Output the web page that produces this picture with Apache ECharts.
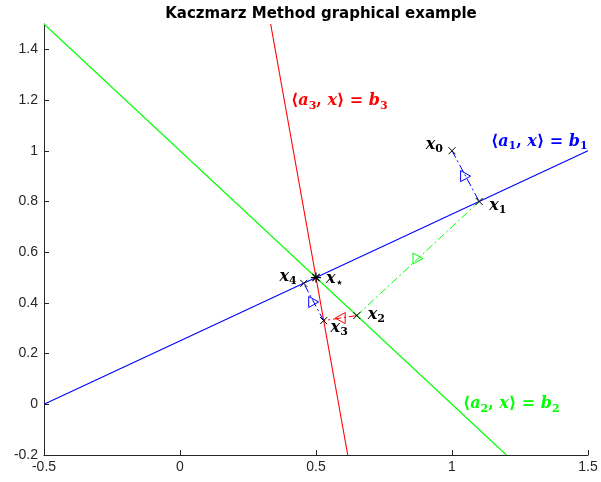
<!DOCTYPE html>
<html><head><meta charset="utf-8">
<script src="https://cdn.jsdelivr.net/npm/echarts@6/dist/echarts.min.js"></script>
<style>html,body{margin:0;padding:0;background:#fff}#c{width:601px;height:482px}</style>
</head><body><div id="c"></div>
<script>
// ---------------- data ----------------
const chartTitle = 'Kaczmarz Method graphical example';
const xTicks = [-0.5, 0, 0.5, 1, 1.5];
const yTicks = [-0.2, 0, 0.2, 0.4, 0.6, 0.8, 1, 1.2, 1.4];
const yMax = 1.5;

// hyperplanes <a_i, x> = b_i  (endpoints clipped to the axes box)
const line1 = [[-0.5, 0], [1.5, 1]];          // blue
const line2 = [[-0.5, 1.5], [1.2, -0.2]];     // green
const line3 = [[0.3333, 1.5], [0.6167, -0.2]]; // red

// Kaczmarz iterates
const iterX = [1, 1.1, 0.65, 0.528, 0.455];
const iterY = [1, 0.8, 0.35, 0.330, 0.477];
const iterSub = ['0', '1', '2', '3', '4'];
const solution = [0.5, 0.5];
const solutionSub = '\u22c6';

// hyperplane labels: anchor (left, middle) and subscript index
const eqLabelX = [1.143, 1.040, 0.408];
const eqLabelY = [1.037, 0.0, 1.195];
const eqIndex = ['1', '2', '3'];

// ---------------- styles ----------------
const BLUE = '#0000ff', GREEN = '#00ff00', RED = '#ff0000';
const lineColors = [BLUE, GREEN, RED];
const stepColors = [BLUE, GREEN, RED, BLUE];
const stepArrow = [1, 1, -1, 1];   // +1 = '>' marker, -1 = '<' marker
// label pixel offsets [dx, dy, align]
const iterLabelOffset = [[-9, -6, 'right'], [10, 4.5, 'left'], [11, -1, 'left'], [7, 7.5, 'left'], [-7, -6.5, 'right']];
const solLabelOffset = [10, 1, 'left'];
const AX = '#262626';

function rich(color) {
  return {
    m: {fontFamily: 'DejaVu Serif', fontStyle: 'italic', fontWeight: 'bold', fontSize: 16, lineHeight: 20, verticalAlign: 'middle', fill: color},
    u: {fontFamily: 'DejaVu Serif', fontWeight: 'bold', fontSize: 16, lineHeight: 20, verticalAlign: 'middle', fill: color},
    s: {fontFamily: 'DejaVu Serif', fontWeight: 'bold', fontSize: 11, lineHeight: 10, verticalAlign: 'bottom', fill: color}
  };
}

const chart = echarts.init(document.getElementById('c'), null, {renderer: 'canvas'});

const lineSeries = [line1, line2, line3].map((l, i) => ({
  type: 'line', data: l, showSymbol: false, silent: true, z: 2,
  lineStyle: {color: lineColors[i], width: 1.1}, animation: false
}));

const segData = [];
for (let i = 0; i < iterX.length - 1; i++) segData.push([iterX[i], iterY[i], iterX[i + 1], iterY[i + 1]]);

const iterData = iterX.map((x, i) => [x, iterY[i]]);

const option = {
  animation: false,
  backgroundColor: '#fff',
  title: {
    text: chartTitle, left: 316, top: 2, textAlign: 'center',
    textStyle: {fontFamily: 'DejaVu Sans', fontWeight: 'bold', fontSize: 15, color: '#000'}
  },
  grid: {left: 44, right: 13, top: 24, bottom: 27, containLabel: false},
  xAxis: {
    type: 'value', min: xTicks[0], max: xTicks[xTicks.length - 1], interval: xTicks[1] - xTicks[0],
    axisLine: {show: true, onZero: false, lineStyle: {color: AX, width: 1}},
    axisTick: {show: true, inside: true, length: 5, lineStyle: {color: AX}},
    axisLabel: {color: AX, fontFamily: 'Liberation Sans', fontSize: 14, margin: 5},
    splitLine: {show: false}
  },
  yAxis: {
    type: 'value', min: yTicks[0], max: yMax, interval: yTicks[1] - yTicks[0],
    axisLine: {show: true, onZero: false, lineStyle: {color: AX, width: 1}},
    axisTick: {show: true, inside: true, length: 5, lineStyle: {color: AX}},
    axisLabel: {color: AX, fontFamily: 'Liberation Sans', fontSize: 14, margin: 6, showMaxLabel: false,
      formatter: v => (Math.abs(v - yMax) < 1e-9 ? '' : String(Math.round(v * 10) / 10))},
    splitLine: {show: false}
  },
  series: [
    ...lineSeries,
    {
      type: 'custom', coordinateSystem: 'cartesian2d', z: 3, silent: true, clip: false,
      data: segData,
      renderItem: function (params, api) {
        const a = api.coord([api.value(0), api.value(1)]);
        const b = api.coord([api.value(2), api.value(3)]);
        const color = stepColors[params.dataIndex];
        const d = stepArrow[params.dataIndex];
        const mx = (a[0] + b[0]) / 2, my = (a[1] + b[1]) / 2;
        return {
          type: 'group', children: [
            {type: 'line', shape: {x1: a[0], y1: a[1], x2: b[0], y2: b[1]},
              style: {stroke: color, lineWidth: 1, lineDash: [8, 3, 2, 3], fill: null}},
            {type: 'polygon', shape: {points: [[mx + 5 * d, my], [mx - 5 * d, my - 5.5], [mx - 5 * d, my + 5.5]]},
              style: {fill: 'rgba(0,0,0,0)', stroke: color, lineWidth: 1}}
          ]
        };
      }
    },
    {
      type: 'custom', coordinateSystem: 'cartesian2d', z: 4, silent: true, clip: false,
      data: iterData,
      renderItem: function (params, api) {
        const p = api.coord([api.value(0), api.value(1)]);
        const r = 3.5;
        const off = iterLabelOffset[params.dataIndex];
        return {
          type: 'group', children: [
            {type: 'line', shape: {x1: p[0] - r, y1: p[1] - r, x2: p[0] + r, y2: p[1] + r}, style: {stroke: '#000', lineWidth: 1}},
            {type: 'line', shape: {x1: p[0] - r, y1: p[1] + r, x2: p[0] + r, y2: p[1] - r}, style: {stroke: '#000', lineWidth: 1}},
            {type: 'text', x: p[0] + off[0], y: p[1] + off[1],
              style: {text: '{m|x}{s|' + iterSub[params.dataIndex] + '}', rich: rich('#000'), align: off[2], verticalAlign: 'middle'}}
          ]
        };
      }
    },
    {
      type: 'custom', coordinateSystem: 'cartesian2d', z: 5, silent: true, clip: false,
      data: [solution],
      renderItem: function (params, api) {
        const p = api.coord([api.value(0), api.value(1)]);
        const r = 5, q = 3.6;
        const st = {stroke: '#000', lineWidth: 1.2};
        return {
          type: 'group', children: [
            {type: 'line', shape: {x1: p[0] - r, y1: p[1], x2: p[0] + r, y2: p[1]}, style: st},
            {type: 'line', shape: {x1: p[0], y1: p[1] - r, x2: p[0], y2: p[1] + r}, style: st},
            {type: 'line', shape: {x1: p[0] - q, y1: p[1] - q, x2: p[0] + q, y2: p[1] + q}, style: st},
            {type: 'line', shape: {x1: p[0] - q, y1: p[1] + q, x2: p[0] + q, y2: p[1] - q}, style: st},
            {type: 'text', x: p[0] + solLabelOffset[0], y: p[1] + solLabelOffset[1],
              style: {text: '{m|x}{s|' + solutionSub + '}', rich: rich('#000'), align: solLabelOffset[2], verticalAlign: 'middle'}}
          ]
        };
      }
    },
    {
      type: 'custom', coordinateSystem: 'cartesian2d', z: 5, silent: true, clip: false,
      data: eqLabelX.map((x, i) => [x, eqLabelY[i]]),
      renderItem: function (params, api) {
        const p = api.coord([api.value(0), api.value(1)]);
        const k = eqIndex[params.dataIndex];
        const c = lineColors[params.dataIndex];
        return {
          type: 'text', x: p[0], y: p[1],
          style: {text: '{u|\u27e8}{m|a}{s|' + k + '}{u|, }{m|x}{u|\u27e9 = }{m|b}{s|' + k + '}', rich: rich(c), align: 'left', verticalAlign: 'middle'}
        };
      }
    }
  ]
};
chart.setOption(option);
</script>
</body></html>
